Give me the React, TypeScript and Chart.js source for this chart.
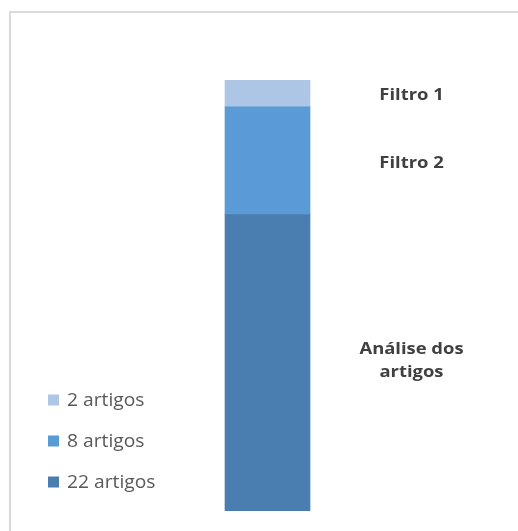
import React, { useEffect, useRef } from "react";
import { Chart, registerables } from "chart.js";

Chart.register(...registerables);

const categories = ["Artigos"];
const seriesNames = ["22 artigos", "8 artigos", "2 artigos"];
const seriesValues = [[22], [8], [2]];
const seriesLabels = [["Análise dos", "artigos"], ["Filtro 2"], ["Filtro 1"]];
const seriesColors = ["#4a7eb0", "#5b9bd5", "#adc6e6"];

const FONT = "'Open Sans', Lato, sans-serif";

function stretchedText(ctx: any, t: string, x: number, y: number, sx: number) {
  ctx.save();
  ctx.translate(x, y);
  ctx.scale(sx, 1);
  ctx.fillText(t, 0, 0);
  ctx.restore();
}

const decorPlugin = {
  id: "decor",
  beforeDraw(chart: any) {
    const ctx = chart.ctx;
    ctx.save();
    ctx.fillStyle = "#ffffff";
    ctx.fillRect(0, 0, chart.width, chart.height);
    ctx.strokeStyle = "#d9d9d9";
    ctx.lineWidth = 2;
    ctx.strokeRect(10, 12, chart.width + 20, chart.height + 20);
    ctx.restore();
  },
  afterDatasetsDraw(chart: any) {
    const ctx = chart.ctx;
    ctx.save();
    chart.data.datasets.forEach((ds: any, i: number) => {
      const meta = chart.getDatasetMeta(i);
      const el = meta.data[0];
      if (!el) return;
      const lines = seriesLabels[i];
      const yc = (el.y + el.base) / 2 + (lines.length > 1 ? -3 : 1.5);
      const xc = el.x + 144;
      ctx.font = "bold 16px " + FONT;
      ctx.fillStyle = "#404040";
      ctx.textAlign = "center";
      ctx.textBaseline = "alphabetic";
      const lh = 23;
      lines.forEach((t, k) => {
        stretchedText(ctx, t, xc, yc + 5.5 + (k - (lines.length - 1) / 2) * lh, 1.15);
      });
    });
    const legendX = 48;
    const legendTop = 400;
    const step = 41;
    ctx.font = "17.5px " + FONT;
    ctx.textAlign = "left";
    ctx.textBaseline = "middle";
    const n = chart.data.datasets.length;
    for (let j = 0; j < n; j++) {
      const i = n - 1 - j;
      const y = legendTop + j * step;
      ctx.fillStyle = seriesColors[i];
      ctx.fillRect(legendX, y - 5.5, 11, 11);
      ctx.fillStyle = "#595959";
      stretchedText(ctx, seriesNames[i], legendX + 19, y + 1.5, 1.1);
    }
    ctx.restore();
  },
};

export default function App() {
  const ref = useRef<HTMLCanvasElement>(null);
  useEffect(() => {
    if (!ref.current) return;
    const chart = new Chart(ref.current, {
      type: "bar",
      data: {
        labels: categories,
        datasets: seriesNames.map((name, i) => ({
          label: name,
          data: seriesValues[i],
          backgroundColor: seriesColors[i],
          borderWidth: 0,
          barThickness: 85,
        })),
      },
      options: {
        animation: false,
        responsive: false,
        layout: { padding: { top: 80, bottom: 20, left: 175, right: 158 } },
        plugins: { legend: { display: false }, tooltip: { enabled: false } },
        scales: {
          x: { stacked: true, display: false },
          y: { stacked: true, display: false, min: 0, max: 32 },
        },
      },
      plugins: [decorPlugin],
    });
    return () => chart.destroy();
  }, []);
  return (
    <div style={{ position: "fixed", left: 0, top: 0, width: 518, height: 531 }}>
      <canvas ref={ref} width={518} height={531} style={{ display: "block" }} />
    </div>
  );
}
